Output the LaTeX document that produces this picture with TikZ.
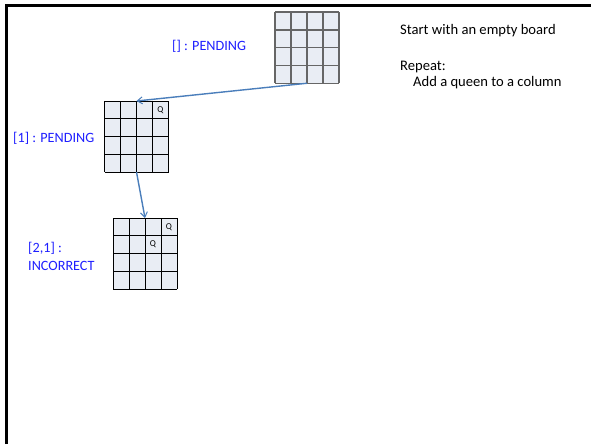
\documentclass[tikz,border=0pt]{standalone}
\usepackage{fontspec}
\setmainfont{Carlito}
\usetikzlibrary{arrows.meta,calc}
\definecolor{cellfill}{HTML}{E9EDF4}
\definecolor{arrowblue}{HTML}{4A7EBB}
\definecolor{labelblue}{HTML}{1F1FFF}
\tikzset{
  x=1pt,y=-1pt,
  frameline/.style={line width=2.4pt,black},
  boardbox/.style={draw=none,fill=cellfill,minimum width=64pt,minimum height=71pt,inner sep=0pt,outer sep=0pt},
  gridthin/.style={black,line width=0.9pt},
  gridgray/.style={black!60,line width=1.5pt},
  flowarrow/.style={arrowblue,line width=1.4pt,-{Straight Barb[length=5pt,width=7pt,line width=1pt]}},
  lbl/.style={labelblue,font=\fontsize{14.2}{16}\selectfont,anchor=west,inner sep=0pt},
  note/.style={black,font=\fontsize{14.6}{16}\selectfont,anchor=west,inner sep=0pt},
  queen/.style={black,font=\fontsize{9}{10}\selectfont,inner sep=0pt}
}
\newcommand{\drawgrid}[2]{%
  \foreach \i in {0,1,2,3,4} {
    \draw[#2] ($(#1.north west)+(16*\i,0)$) -- ($(#1.south west)+(16*\i,0)$);
    \draw[#2] ($(#1.north west)+(0,17.75*\i)$) -- ($(#1.north east)+(0,17.75*\i)$);
  }}
\begin{document}
\begin{tikzpicture}
\useasboundingbox (0,0) rectangle (591,444);
\draw[frameline] (6.5,444) -- (6.5,5.5) -- (591,5.5);
% boards
\node[boardbox] (b1) at (307,47.75) {};
\drawgrid{b1}{gridgray}
\node[boardbox] (b2) at (136.5,136.5) {};
\drawgrid{b2}{gridthin}
\node[boardbox] (b3) at (145,253.5) {};
\drawgrid{b3}{gridthin}
% queens
\node[queen] (q2) at ($(b2.north west)+(56,9)$) {Q};
\node[queen] (q3a) at ($(b3.north west)+(56,9)$) {Q};
\node[queen] (q3b) at ($(b3.north west)+(40,26.6)$) {Q};
% arrows
\draw[flowarrow] (b1.south) -- (b2.north);
\draw[flowarrow] (b2.south) -- (b3.north);
% labels
\node[lbl] (l1) at (172,46) {[] : PENDING};
\node[lbl] (l2) at (13,138) {[1] : PENDING};
\node[lbl] (l3a) at (28,248) {[2,1] :};
\node[lbl] (l3b) at (28,266) {INCORRECT};
\node[note] (n1) at (400,31) {Start with an empty board};
\node[note] (n2) at (400,67) {Repeat:};
\node[note] (n3) at (413,83) {Add a queen to a column};
\end{tikzpicture}
\end{document}
